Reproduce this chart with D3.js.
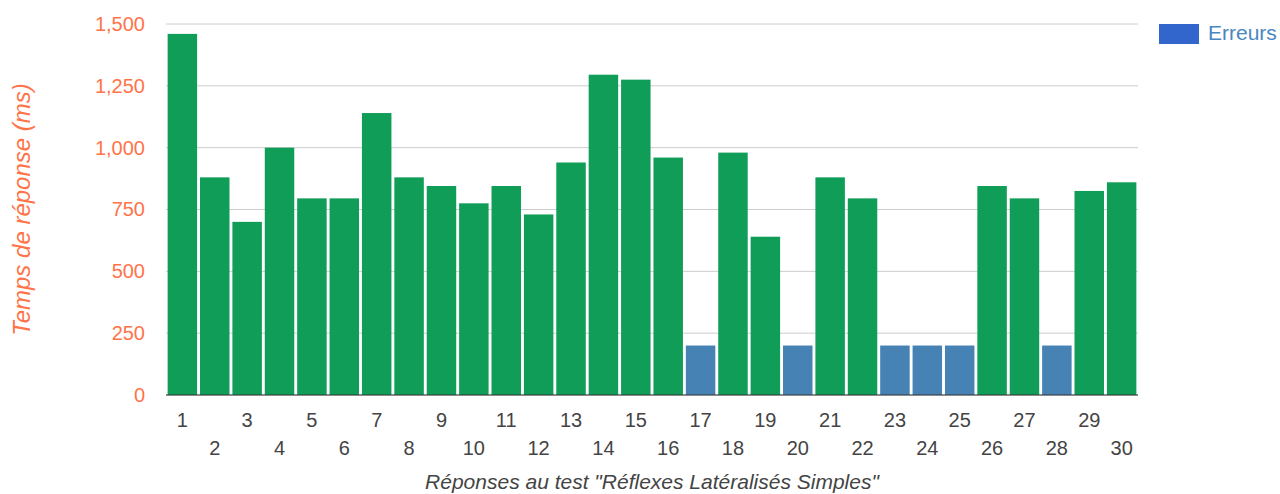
<!DOCTYPE html>
<html>
<head>
	<meta charset="utf-8">
	<title>Réflexes Latéralisés Simples</title>
	<style>
		body { margin: 0; background: #fff; }
		svg { display: block; font-family: Arial, "Liberation Sans", sans-serif; }
	</style>
</head>
<body>
	<svg id="chart" width="1280" height="494"></svg>
	<script src="https://d3js.org/d3.v7.min.js"></script>
	<script>
		// essais 1..30, temps de réponse en ms, erreurs marquées
		const trials = d3.range(1, 31).map(String);
		const responseTimes = [1460, 880, 700, 1000, 795, 795, 1140, 880, 845, 775,
			845, 730, 940, 1295, 1275, 960, 200, 980, 640, 200,
			880, 795, 200, 200, 200, 845, 795, 200, 825, 860];
		const isError = [0, 0, 0, 0, 0, 0, 0, 0, 0, 0,
			0, 0, 0, 0, 0, 0, 1, 0, 0, 1,
			0, 0, 1, 1, 1, 0, 0, 1, 0, 0];
		const yTicks = [0, 250, 500, 750, 1000, 1250, 1500];
		const legendLabels = ['Erreurs'];

		const width = 1280, height = 494;
		const margin = { top: 24, right: 142, bottom: 99, left: 166 };

		const svg = d3.select('#chart');

		const x = d3.scaleBand()
			.domain(trials)
			.range([margin.left, width - margin.right])
			.paddingInner(0.09)
			.paddingOuter(0.05);

		const y = d3.scaleLinear()
			.domain([0, 1500])
			.range([height - margin.bottom, margin.top]);

		// grille
		svg.append('g')
			.selectAll('line')
			.data(yTicks)
			.join('line')
			.attr('x1', margin.left)
			.attr('x2', width - margin.right)
			.attr('y1', d => y(d))
			.attr('y2', d => y(d))
			.attr('stroke', '#cccccc')
			.attr('stroke-width', 1);

		// barres
		svg.append('g')
			.selectAll('rect')
			.data(responseTimes)
			.join('rect')
			.attr('x', (d, i) => x(trials[i]))
			.attr('y', d => y(d))
			.attr('width', x.bandwidth())
			.attr('height', d => y(0) - y(d))
			.attr('fill', (d, i) => isError[i] ? '#4682b4' : '#109d58');

		// ligne de base
		svg.append('line')
			.attr('x1', margin.left)
			.attr('x2', width - margin.right)
			.attr('y1', y(0))
			.attr('y2', y(0))
			.attr('stroke', '#333333')
			.attr('stroke-width', 1);

		// axe y
		const yAxis = d3.axisLeft(y)
			.tickValues(yTicks)
			.tickFormat(d3.format(','))
			.tickSize(0)
			.tickPadding(0);
		svg.append('g')
			.attr('transform', `translate(${margin.left - 21},0)`)
			.call(yAxis)
			.call(g => g.select('.domain').remove())
			.selectAll('text')
			.attr('fill', '#ff7349')
			.attr('font-size', 20)
			.attr('font-family', 'Arial, "Liberation Sans", sans-serif');

		// axe x, libellés décalés sur deux lignes
		svg.append('g')
			.selectAll('text')
			.data(trials)
			.join('text')
			.attr('x', d => x(d) + x.bandwidth() / 2)
			.attr('y', (d, i) => i % 2 === 0 ? 427 : 455)
			.attr('text-anchor', 'middle')
			.attr('fill', '#444444')
			.attr('font-size', 20)
			.text(d => d);

		// titres
		svg.append('text')
			.attr('transform', `translate(30,${(y(0) + y(1500)) / 2}) rotate(-90)`)
			.attr('text-anchor', 'middle')
			.attr('font-style', 'italic')
			.attr('font-size', 24)
			.attr('fill', '#ff7349')
			.text('Temps de réponse (ms)');

		svg.append('text')
			.attr('x', (margin.left + width - margin.right) / 2)
			.attr('y', 489)
			.attr('text-anchor', 'middle')
			.attr('font-style', 'italic')
			.attr('font-size', 21)
			.attr('fill', '#444444')
			.text('Réponses au test "Réflexes Latéralisés Simples"');

		// légende
		const legend = svg.append('g').attr('transform', 'translate(1159,24)');
		legend.selectAll('rect')
			.data(legendLabels)
			.join('rect')
			.attr('width', 40)
			.attr('height', 20)
			.attr('fill', '#3366cc');
		legend.selectAll('text')
			.data(legendLabels)
			.join('text')
			.attr('x', 49)
			.attr('y', 16)
			.attr('font-size', 21)
			.attr('fill', '#4a86c0')
			.text(d => d);
	</script>
</body>
</html>
